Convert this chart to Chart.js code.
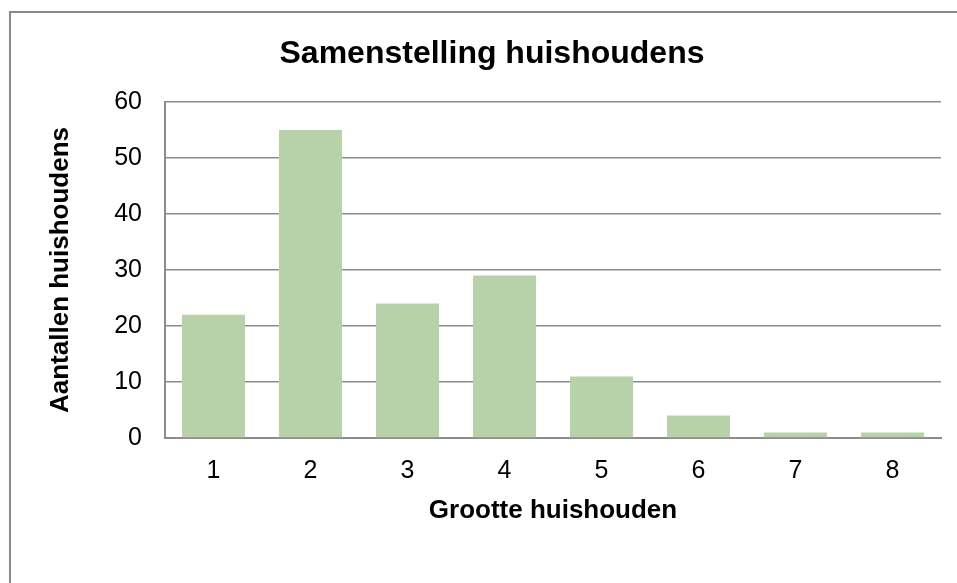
<!DOCTYPE html>
<html>
<head>
<meta charset="utf-8">
<script src="https://cdn.jsdelivr.net/npm/chart.js@4"></script>
<style>
  html, body { margin: 0; padding: 0; background: #fff; overflow: hidden; }
  #kader {
    position: absolute; left: 9px; top: 11px; width: 1200px; height: 900px;
    border-left: 2px solid #8a8a8a; border-top: 2px solid #8a8a8a;
  }
  #wrap { position: absolute; left: 0; top: 0; width: 957px; height: 583px; }
</style>
</head>
<body>
<div id="kader"></div>
<div id="wrap"><canvas id="grafiek" width="957" height="583"></canvas></div>
<script>
// DATA
const grootte = ['1', '2', '3', '4', '5', '6', '7', '8'];
const aantallen = [22, 55, 24, 29, 11, 4, 1, 1];
const yTicks = [0, 10, 20, 30, 40, 50, 60];
const titel = 'Samenstelling huishoudens';

const FONT = "'Liberation Sans', Arial, sans-serif";
const GRIJS = '#8c8c8c';

// titel zelf tekenen (gecentreerd op het hele kader, niet op de canvas)
const titelPlugin = {
  id: 'titel',
  afterDraw(chart) {
    const ctx = chart.ctx;
    ctx.save();
    ctx.font = `bold 32px ${FONT}`;
    ctx.fillStyle = '#000';
    ctx.textAlign = 'center';
    ctx.textBaseline = 'alphabetic';
    ctx.fillText(titel, 492, 63);
    ctx.restore();
  }
};

new Chart(document.getElementById('grafiek').getContext('2d'), {
  type: 'bar',
  data: {
    labels: grootte,
    datasets: [{
      label: 'Aantallen huishoudens',
      data: aantallen,
      backgroundColor: '#b7d1a9',
      barPercentage: 0.65,
      categoryPercentage: 1
    }]
  },
  plugins: [titelPlugin],
  options: {
    responsive: false,
    animation: false,
    layout: { padding: { left: 0, right: 16, top: 102, bottom: 0 } },
    plugins: {
      legend: { display: false },
      tooltip: { enabled: false },
      title: { display: false }
    },
    scales: {
      x: {
        grid: { display: false },
        border: { display: true, color: GRIJS, width: 2 },
        ticks: {
          color: '#000',
          padding: 10,
          font: { family: FONT, size: 25 }
        },
        title: {
          display: true,
          text: 'Grootte huishouden',
          color: '#000',
          font: { family: FONT, size: 26, weight: 'bold', lineHeight: 1.2 },
          padding: { top: 0, bottom: 57 }
        },
        afterFit: s => { s.height = 145; }
      },
      y: {
        min: 0,
        max: 60,
        afterBuildTicks: s => { s.ticks = yTicks.map(v => ({ value: v })); },
        grid: { color: GRIJS, lineWidth: 1.5, drawTicks: false },
        border: { display: true, color: GRIJS, width: 2 },
        ticks: {
          color: '#000',
          padding: 23,
          font: { family: FONT, size: 25 }
        },
        title: {
          display: true,
          text: 'Aantallen huishoudens',
          color: '#000',
          font: { family: FONT, size: 26, weight: 'bold', lineHeight: 1.2 },
          padding: { top: 45, bottom: 0 }
        },
        afterFit: s => { s.width = 165; }
      }
    }
  }
});
</script>
</body>
</html>
